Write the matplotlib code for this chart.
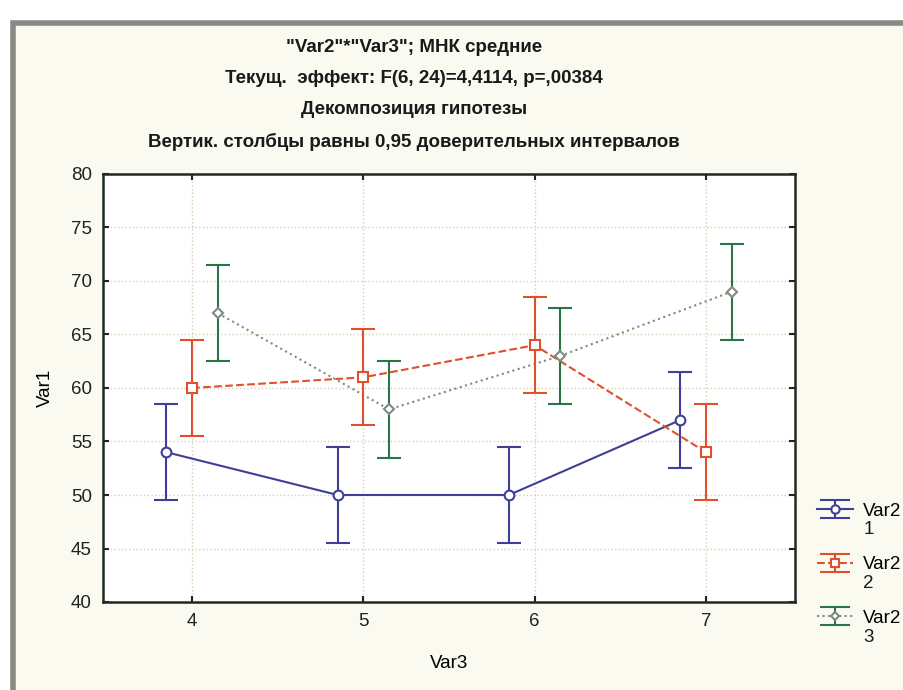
import matplotlib.pyplot as plt
from matplotlib.patches import Rectangle
from matplotlib.lines import Line2D
from matplotlib.path import Path
import numpy as np

# Var3 levels and LS means per Var2 group
var3_levels = [4, 5, 6, 7]
var2_name = "Var2"
var2_levels = ["1", "2", "3"]
means_1 = [54, 50, 50, 57]
means_2 = [60, 61, 64, 54]
means_3 = [67, 58, 63, 69]
ci_half = [4.5, 4.5, 4.5]

titles = ['"Var2"*"Var3"; МНК средние',
          'Текущ.  эффект: F(6, 24)=4,4114, p=,00384',
          'Декомпозиция гипотезы',
          'Вертик. столбцы равны 0,95 доверительных интервалов']

plt.rcParams['font.family'] = ['Liberation Sans', 'DejaVu Sans']

fig = plt.figure(figsize=(9.04, 6.9), dpi=100)
fig.patch.set_facecolor('white')
fig.patches.append(Rectangle((13 / 904, -0.1), 1.2, 1 - 23 / 690 + 0.1,
                             transform=fig.transFigure, facecolor='#fafaf1',
                             edgecolor='#8a8a84', linewidth=4, zorder=-10))

ax = fig.add_axes([103 / 904, 88 / 690, 692 / 904, 428 / 690])
ax.set_facecolor('white')

# "I" shaped marker for the legend error bar symbol
ibar = Path([(-1, 0.62), (1, 0.62), (0, 0.62), (0, -0.62), (-1, -0.62), (1, -0.62)],
            [Path.MOVETO, Path.LINETO, Path.MOVETO, Path.LINETO, Path.MOVETO, Path.LINETO])

x = np.array(var3_levels, dtype=float)
styles = [
    dict(offset=-0.15, color='#3f3f98', line='#3f3f98', ls='-', marker='o', ms=7),
    dict(offset=0.0, color='#e0502c', line='#e0502c', ls='--', marker='s', ms=7),
    dict(offset=0.15, color='#2b7447', line='#7f8a80', ls=':', marker='D', ms=5),
]
series = [means_1, means_2, means_3]

handles = []
for vals, ci, st in zip(series, ci_half, styles):
    xs = x + st['offset']
    ax.plot(xs, vals, color=st['line'], ls=st['ls'], lw=1.5, zorder=2)
    ax.errorbar(xs, vals, yerr=ci, fmt='none', ecolor=st['color'],
                elinewidth=1.5, capsize=8.5, capthick=1.5, zorder=3)
    ax.plot(xs, vals, ls='none', marker=st['marker'], ms=st['ms'],
            mfc='white', mec=st['line'], mew=1.5, zorder=4)
    bar = Line2D([], [], ls='none', marker=ibar, ms=22, mec=st['color'],
                 mfc='none', mew=1.5)
    ln = Line2D([], [], color=st['line'], ls=st['ls'], lw=1.5,
                marker=st['marker'], ms=st['ms'] - 1, mfc='white',
                mec=st['line'], mew=1.5)
    handles.append((bar, ln))

ax.set_xlim(3.48, 7.52)
ax.set_ylim(40, 80)
ax.set_xticks(var3_levels)
ax.set_yticks(np.arange(40, 81, 5))
ax.grid(True, ls=':', color='#d8cfb2', lw=1)
ax.tick_params(direction='in', top=True, right=True, length=4, width=1.5,
               labelsize=13.5, colors='#222222', pad=8)
for s in ax.spines.values():
    s.set_linewidth(1.8)
    s.set_color('#1e2a22')

ax.set_xlabel('Var3', fontsize=13.5, labelpad=18)
ax.set_ylabel('Var1', fontsize=13.5, labelpad=12)

for i, t in enumerate(titles):
    fig.text(0.458, 1 - (47 + i * 31.5) / 690, t, ha='center', va='center',
             fontsize=13.5, fontweight='bold', color='#1a1a1a')

leg = fig.legend(handles, [var2_name] * len(handles),
                 loc='upper left', bbox_to_anchor=(808 / 904, 1 - 493 / 690),
                 frameon=False, fontsize=13.5, handlelength=1.9, borderpad=0,
                 labelspacing=1.95, handletextpad=0.55)

# second line of each legend label (level number) under "Var2"
fig.canvas.draw()
inv = fig.transFigure.inverted()
for txt, lev in zip(leg.get_texts(), var2_levels):
    bb = txt.get_window_extent()
    x0, y0 = inv.transform((bb.x0, bb.y0 - 2))
    fig.text(x0, y0, lev, ha='left', va='top', fontsize=13.5, color='#1a1a1a')

fig.savefig('out.png', dpi=100, facecolor=fig.get_facecolor())
